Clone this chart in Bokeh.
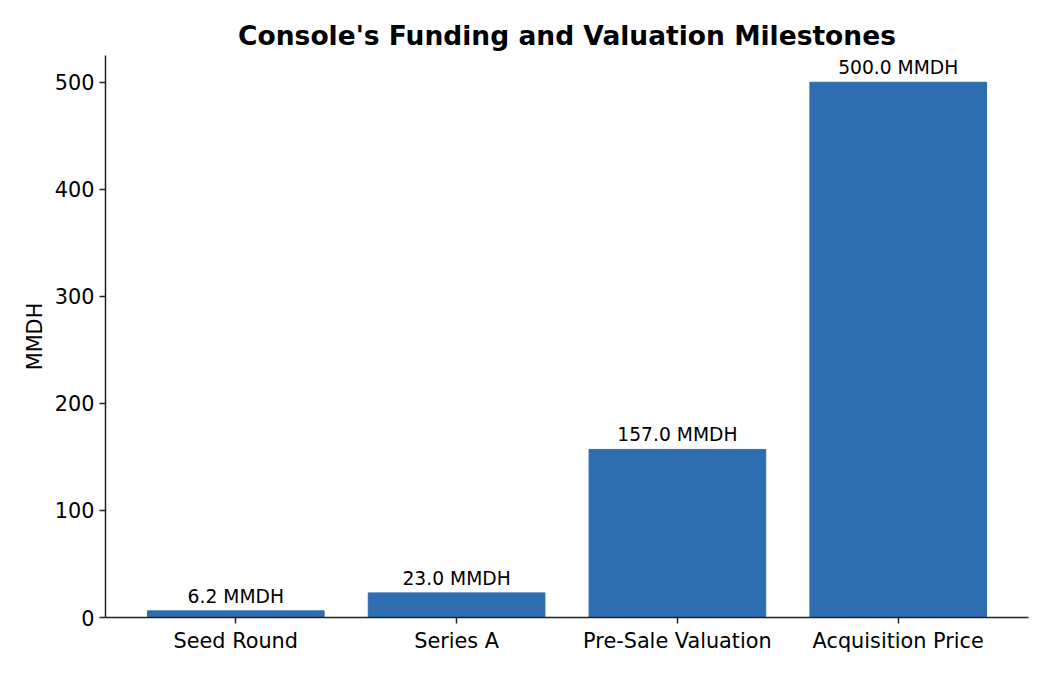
from bokeh.plotting import figure
from bokeh.models import ColumnDataSource, Range1d, FixedTicker, LabelSet
from bokeh.core.properties import value
from bokeh.embed import file_html
from bokeh.resources import INLINE

categories = ["Seed Round", "Series A", "Pre-Sale Valuation", "Acquisition Price"]
values = [6.2, 23.0, 157.0, 500.0]
labels = [f"{v:.1f} MMDH" for v in values]
y_ticks = [0, 100, 200, 300, 400, 500]

FONT = "DejaVu Sans"
BAR = "#2d6db0"

src = ColumnDataSource(dict(x=list(range(len(categories))), top=values, label=labels))

p = figure(width=1034, height=659, output_backend="svg", toolbar_location=None,
           x_range=Range1d(-0.59, 3.59), y_range=Range1d(0, 525),
           min_border_left=105, min_border_right=6, min_border_top=55, min_border_bottom=42)
p.title.text = "Console's Funding and Valuation Milestones"
p.title.align = "center"
p.title.text_font = FONT
p.title.text_font_size = "26.5px"
p.title.text_font_style = "bold"
p.title.text_color = "black"

p.vbar(x="x", top="top", width=0.8, bottom=0, source=src, color=BAR)
p.add_layout(LabelSet(x="x", y="top", text="label", source=src, text_align="center",
                      text_baseline="bottom", y_offset=4, text_font=value(FONT),
                      text_font_size="18.7px", text_color="black"))

p.xaxis.ticker = FixedTicker(ticks=list(range(len(categories))))
p.xaxis.major_label_overrides = {i: c for i, c in enumerate(categories)}
p.yaxis.ticker = FixedTicker(ticks=y_ticks)
p.yaxis.axis_label = "MMDH"
for ax in (p.xaxis[0], p.yaxis[0]):
    ax.major_label_text_font = FONT
    ax.major_label_text_font_size = "20.8px"
    ax.major_label_text_color = "black"
    ax.axis_label_text_font = FONT
    ax.axis_label_text_font_size = "20.8px"
    ax.axis_label_text_font_style = "normal"
    ax.axis_label_text_color = "black"
    ax.axis_line_color = "#222222"
    ax.axis_line_width = 1.5
    ax.major_tick_line_color = "#222222"
    ax.major_tick_line_width = 1.5
    ax.major_tick_out = 6
    ax.major_tick_in = 0
    ax.minor_tick_line_color = None
p.grid.grid_line_color = None
p.outline_line_color = None

open("out.html", "w").write(file_html(p, INLINE))
